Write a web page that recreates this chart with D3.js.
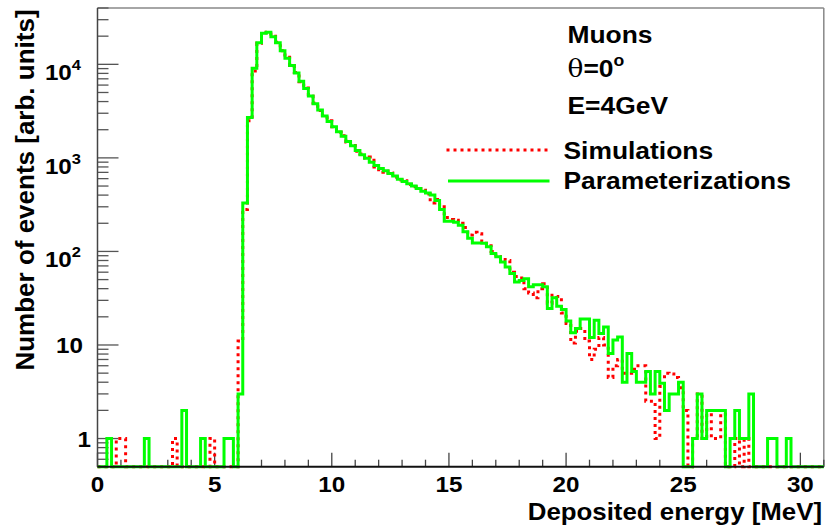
<!DOCTYPE html>
<html>
<head>
<meta charset="utf-8">
<script src="https://cdn.jsdelivr.net/npm/d3@7"></script>
<style>
  html, body { margin: 0; padding: 0; background: #fff; }
  svg { display: block; }
  text { font-family: "Liberation Sans", Arial, sans-serif; font-weight: bold; fill: #000; }
</style>
</head>
<body>
<svg id="chart" width="827" height="532"></svg>
<script>
// histogram: 155 bins of 0.2 MeV from 0 to 31 MeV
const binWidth = 0.2;
const xMax = 31;

// counts per bin (0 = empty bin)
const simulations = [
  0, 0, 0, 0, 1, 1, 0, 0, 0, 0,
  0, 0, 0, 0, 0, 0, 1, 0, 0, 0,
  0, 0, 0, 0, 1, 0, 0, 0, 0, 0,
  11, 280, 2500, 8500, 16800, 21800, 22000, 20000, 17200, 14000,
  11900, 9700, 8200, 6500, 5600, 4550, 3850, 3200, 2850, 2500,
  2150, 1880, 1720, 1480, 1360, 1180, 1100, 1000, 1020, 800,
  700, 720, 690, 620, 580, 570, 520, 490, 470, 450,
  410, 330, 360, 300, 230, 220, 215, 200, 180, 150,
  160, 155, 128, 115, 100, 88, 82, 80, 60, 54,
  52, 40, 36, 32, 40, 45, 28, 34, 33, 22,
  17, 10.5, 14, 15, 11, 7, 9, 12, 10, 4.5,
  6, 7, 5, 5, 5.5, 6, 6, 2.5, 2.5, 1,
  3.6, 5, 4.9, 4.5, 3.5, 2, 0, 1, 3, 1,
  2, 1, 1, 2, 0, 0, 1, 0, 1, 0,
  0, 0, 0, 0, 0, 0, 0, 0, 0, 0,
  0, 0, 0, 0, 0
];

const parameterizations = [
  0, 0, 1, 0, 0, 0, 0, 0, 0, 0,
  1, 0, 0, 0, 0, 0, 0, 0, 2, 0,
  0, 0, 1, 0, 0, 0, 0, 1, 1, 0,
  3, 330, 2700, 9100, 17000, 21500, 22000, 19700, 17000, 14000,
  11600, 9700, 8100, 6600, 5500, 4600, 3800, 3250, 2800, 2450,
  2150, 1900, 1700, 1500, 1350, 1200, 1080, 990, 900, 830,
  770, 730, 680, 640, 590, 560, 530, 500, 470, 440,
  420, 400, 350, 280, 210, 210, 205, 190, 162, 138,
  123, 123, 122, 112, 95, 88, 77, 68, 58, 47,
  49, 51, 42, 44, 44, 42, 24.5, 32, 26, 24,
  18, 13.5, 15, 19, 19, 12, 18.4, 13.3, 15.6, 8.1,
  11.3, 12.2, 4, 8.1, 5.2, 4, 4, 5.2, 3, 5.2,
  3.9, 2, 3, 3, 4, 0, 0, 1, 3, 1,
  2, 2, 2, 2, 0, 1, 2, 1, 1, 3,
  0, 0, 0, 1, 1, 0, 0, 1, 0, 0,
  0, 0, 0, 0, 0
];

const xTickValues = [0, 5, 10, 15, 20, 25, 30];
const yDecades = [1, 10, 100, 1000, 10000];

const xTitle = "Deposited energy [MeV]";
const yTitle = "Number of events [arb. units]";
const infoLines = ["Muons", "θ=0o", "E=4GeV"];
const legendNames = ["Simulations", "Parameterizations"];

const svg = d3.select('#chart');
const frame = { left: 97.5, right: 823.8, top: 8, bottom: 466.7 };
const stretch = 1.1; // text in the picture is a little wider than tall

const xScale = d3.scaleLinear().domain([0, xMax]).range([frame.left, frame.right]);
const yScale = d3.scaleLog().domain([0.5, 40000]).range([frame.bottom, frame.top]);

function addText(x, y, str, size, anchor) {
  return svg.append('text')
    .attr('transform', `translate(${x},${y}) scale(${stretch},1)`)
    .attr('font-size', size)
    .attr('text-anchor', anchor || 'start')
    .text(str);
}

// frame
svg.append('line').attr('x1', frame.left).attr('x2', frame.right)
  .attr('y1', frame.top).attr('y2', frame.top)
  .attr('stroke', '#888').attr('stroke-width', 1.5);
svg.append('line').attr('x1', frame.right).attr('x2', frame.right)
  .attr('y1', frame.top).attr('y2', frame.bottom)
  .attr('stroke', '#888').attr('stroke-width', 1.5);

// y ticks (inside the frame)
const yTicks = yScale.ticks();
svg.append('g').selectAll('line').data(yTicks).join('line')
  .attr('x1', frame.left)
  .attr('x2', d => frame.left + (yDecades.includes(d) ? 21 : 11))
  .attr('y1', d => yScale(d)).attr('y2', d => yScale(d))
  .attr('stroke', '#555').attr('stroke-width', 1.3);

// x ticks, major every 5 and minor every 1
const xMinor = d3.range(0, xMax + 1);
svg.append('g').selectAll('line').data(xMinor).join('line')
  .attr('x1', d => xScale(d)).attr('x2', d => xScale(d))
  .attr('y1', frame.bottom)
  .attr('y2', d => frame.bottom - (d % 5 === 0 ? 14 : 7))
  .attr('stroke', '#444').attr('stroke-width', 1.3);

// histograms
function stepPath(values) {
  const pts = values.map((v, i) => [i * binWidth, v]);
  pts.push([values.length * binWidth, values[values.length - 1]]);
  return d3.line()
    .x(d => xScale(d[0]))
    .y(d => yScale(Math.max(d[1], 0.5)))
    .curve(d3.curveStepAfter)(pts);
}

svg.append('path')
  .attr('d', stepPath(simulations))
  .attr('fill', 'none')
  .attr('stroke', '#ff0000')
  .attr('stroke-width', 3)
  .attr('stroke-dasharray', '3,4');

svg.append('path')
  .attr('d', stepPath(parameterizations))
  .attr('fill', 'none')
  .attr('stroke', '#00ff00')
  .attr('stroke-width', 3);

// axes lines drawn over the histograms
svg.append('line').attr('x1', frame.left).attr('x2', frame.left)
  .attr('y1', frame.top).attr('y2', frame.bottom)
  .attr('stroke', '#444').attr('stroke-width', 1.5);
svg.append('line').attr('x1', frame.left).attr('x2', frame.right)
  .attr('y1', frame.bottom).attr('y2', frame.bottom)
  .attr('stroke', '#111').attr('stroke-width', 2);

// x tick labels
xTickValues.forEach(v => {
  addText(xScale(v), 491.5, String(v), 22, 'middle');
});

// y tick labels
yDecades.forEach(v => {
  const ty = yScale(v);
  if (v === 1) {
    addText(91, ty + 8.5, "1", 22, 'end');
  } else if (v === 10) {
    addText(83, ty + 8, "10", 22, 'end');
  } else {
    const t = addText(81, ty + 16, "", 22, 'end');
    t.append('tspan').text("10");
    t.append('tspan').attr('font-size', 15).attr('dy', -10).text(String(Math.log10(v)));
  }
});

// axis titles
addText(822, 520, xTitle, 23.5, 'end');
svg.append('text')
  .attr('transform', 'translate(33.5,190) rotate(-90)')
  .attr('font-size', 26)
  .attr('text-anchor', 'middle')
  .text(yTitle);

// info block
addText(567.5, 43, infoLines[0], 24);
const th = addText(567.5, 77, "", 24);
th.append('tspan').attr('font-weight', 'normal').attr('font-family', '"DejaVu Serif", serif').text("θ");
th.append('tspan').text("=0");
th.append('tspan').attr('font-size', 16).attr('dy', -11).text("o");
addText(567.5, 113.5, infoLines[2], 24);

// legend
svg.append('line').attr('x1', 446.5).attr('x2', 548.5).attr('y1', 150).attr('y2', 150)
  .attr('stroke', '#ff0000').attr('stroke-width', 3).attr('stroke-dasharray', '3,4');
svg.append('line').attr('x1', 448).attr('x2', 549.5).attr('y1', 181).attr('y2', 181)
  .attr('stroke', '#00ff00').attr('stroke-width', 3);
addText(563.5, 158.5, legendNames[0], 24);
addText(563.5, 188.5, legendNames[1], 24);
</script>
</body>
</html>
